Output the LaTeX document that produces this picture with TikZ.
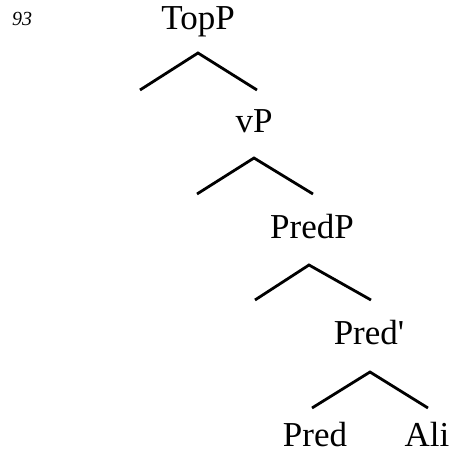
\documentclass[tikz,border=0pt]{standalone}
\usepackage{fontspec}
\setmainfont{Liberation Serif}
% plain family without TeX ligatures, so the prime stays a straight quote
\newfontfamily\labfont{Liberation Serif}
\begin{document}
\begin{tikzpicture}[x=1pt,y=-1pt,
  lab/.style={font=\labfont\fontsize{35}{40}\selectfont, inner sep=0pt, anchor=base, text depth=0pt},
  exnum/.style={font=\labfont\itshape\fontsize{20}{24}\selectfont, inner sep=0pt, anchor=base west},
  branch/.style={line width=2.8pt, line join=miter, line cap=butt}]
\useasboundingbox (0,0) rectangle (453,452);

% example number
\node[exnum] (num) at (12,26) {93};

% labels
\node[lab] (top)     at (198,30)  {TopP};
\node[lab] (vp)      at (254,132) {vP};
\node[lab] (predp)   at (312,238) {PredP};
\node[lab] (predbar) at (369,344) {Pred'};
\node[lab] (pred)    at (315,446) {Pred};
\node[lab] (ali)     at (427,446) {Ali};

% branch apexes and leg ends
\coordinate (a1) at (198,53);  \coordinate (l1) at (140,90);  \coordinate (r1) at (257,90);
\coordinate (a2) at (254,158); \coordinate (l2) at (197,194); \coordinate (r2) at (313,194);
\coordinate (a3) at (309,265); \coordinate (l3) at (255,300); \coordinate (r3) at (371,300);
\coordinate (a4) at (370,372); \coordinate (l4) at (312,408); \coordinate (r4) at (428,408);

\draw[branch] (l1) -- (a1) -- (r1);
\draw[branch] (l2) -- (a2) -- (r2);
\draw[branch] (l3) -- (a3) -- (r3);
\draw[branch] (l4) -- (a4) -- (r4);
\end{tikzpicture}
\end{document}
